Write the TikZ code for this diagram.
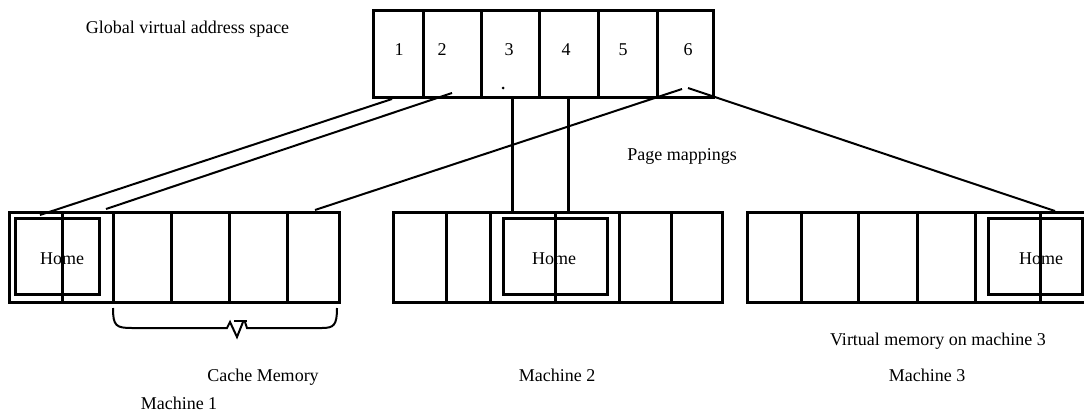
\documentclass[tikz,border=0pt]{standalone}
\usepackage{fontspec}
\setmainfont{Liberation Serif}
\begin{document}
\begin{tikzpicture}[x=1pt,y=-1pt,
  box/.style={draw, line width=3pt},
  conn/.style={draw, line width=2pt},
  lbl/.style={font=\fontsize{18}{20}\selectfont, inner sep=0pt, anchor=base}]
\useasboundingbox (0,0) rectangle (1084,415);
\clip (0,0) rectangle (1084,415);
% global virtual address space
\draw[box] (373,10) rectangle (713,97);
\foreach \x in {423,481,539,598,657} \draw[box] (\x,10) -- (\x,97);
\node[lbl] (n1) at (399,55) {1};
\node[lbl] (n2) at (442,55) {2};
\node[lbl] (n3) at (509,55) {3};
\node[lbl] (n4) at (566,55) {4};
\node[lbl] (n5) at (623,55) {5};
\node[lbl] (n6) at (688,55) {6};
\fill (503,88) circle (1.5);
% machine 1
\draw[box] (9,212) rectangle (339,302);
\foreach \x in {62,113,171,229,287} \draw[box] (\x,212) -- (\x,302);
\draw[box] (15,218) rectangle (99,294);
\node[lbl] (h1) at (62,264) {Home};
% machine 2
\draw[box] (393,212) rectangle (722,302);
\foreach \x in {446,490,555,619,671} \draw[box] (\x,212) -- (\x,302);
\draw[box] (503,218) rectangle (607,294);
\node[lbl] (h2) at (554,264) {Home};
% machine 3
\draw[box] (747,212) rectangle (1095,302);
\foreach \x in {801,858,917,975,1040} \draw[box] (\x,212) -- (\x,302);
\draw[box] (988,218) rectangle (1082,294);
\node[lbl] (h3) at (1041,264) {Home};
% connector end points
\coordinate (a1) at (392,99);  \coordinate (b1) at (40,215);
\coordinate (a2) at (452,93);  \coordinate (b2) at (106,209);
\coordinate (a3) at (682,89);  \coordinate (b3) at (315,210);
\coordinate (a4) at (688,88);  \coordinate (b4) at (1055,211);
\coordinate (a5) at (512,97);  \coordinate (b5) at (512,212);
\coordinate (a6) at (568,97);  \coordinate (b6) at (568,212);
\draw[conn] (a1) -- (b1);
\draw[conn] (a2) -- (b2);
\draw[conn] (a3) -- (b3);
\draw[conn] (a4) -- (b4);
\draw[box] (a5) -- (b5);
\draw[box] (a6) -- (b6);
% brace
\draw[conn] (113,308) .. controls (113,326) and (116,328) .. (132,328) -- (227,328) -- (230,322) -- (237,337) -- (243,322);
\draw[conn] (234,321) -- (247,321);
\draw[conn] (245,322) -- (247,328) -- (322,328) .. controls (334,328) and (337,325) .. (337,308);
% labels
\node[lbl] (t1) at (187.5,33) {Global virtual address space};
\node[lbl] (t2) at (682,160) {Page mappings};
\node[lbl] (t3) at (938,345) {Virtual memory on machine 3};
\node[lbl] (t4) at (263,381) {Cache Memory};
\node[lbl] (t5) at (557,381) {Machine 2};
\node[lbl] (t6) at (927,381) {Machine 3};
\node[lbl] (t7) at (179,409) {Machine 1};
\end{tikzpicture}
\end{document}
